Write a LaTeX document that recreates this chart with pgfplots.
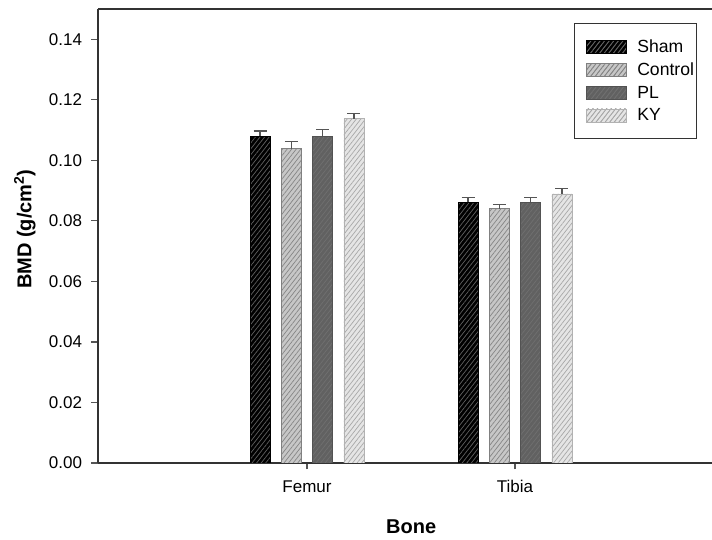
\documentclass[border=0pt]{standalone}
\usepackage{pgfplots}
\usepackage{pgfplotstable}
\pgfplotsset{compat=1.18}
\usepackage{fontspec}
\setmainfont{Liberation Sans}
\usetikzlibrary{patterns.meta}

\definecolor{axisgray}{HTML}{333333}
\definecolor{errgray}{HTML}{555555}

% hatched bar fills
\tikzset{
  shamS/.style={draw=black, line width=0.8pt, fill=black,
    postaction={pattern={Lines[angle=52,distance=3.6pt,line width=0.7pt]}, pattern color=black!62}},
  controlS/.style={draw=black!50, line width=0.8pt, fill=black!22,
    postaction={pattern={Lines[angle=52,distance=3.6pt,line width=0.7pt]}, pattern color=black!48}},
  plS/.style={draw=black!68, line width=0.8pt, fill=black!62,
    postaction={pattern={Lines[angle=52,distance=3.6pt,line width=0.7pt]}, pattern color=black!56}},
  kyS/.style={draw=black!30, line width=0.8pt, fill=black!10,
    postaction={pattern={Lines[angle=52,distance=3.6pt,line width=0.7pt]}, pattern color=black!34}},
}
% legend swatch, indented from the legend frame
\pgfplotsset{
  swatch/.style={legend image code/.code={\path (0pt,0pt); \draw[#1] (11pt,-6.5pt) rectangle (51pt,6.5pt);}},
}

% BMD means and SEM; x = 0 Femur, 1 Tibia
\pgfplotstableread{
x y e
0 0.1080 0.0017
1 0.0861 0.0016
}\sham
\pgfplotstableread{
x y e
0 0.1039 0.0022
1 0.0840 0.0014
}\control
\pgfplotstableread{
x y e
0 0.1080 0.0022
1 0.0861 0.0016
}\pl
\pgfplotstableread{
x y e
0 0.1138 0.0018
1 0.0889 0.0018
}\ky

\begin{document}
\begin{tikzpicture}
\begin{axis}[
  at={(0,0)}, anchor=south west,
  scale only axis, width=614pt, height=454pt,
  xmin=-1.005, xmax=1.947, ymin=0, ymax=0.15,
  axis x line*=box, axis y line*=left,
  axis line style={line width=1.4pt, color=axisgray},
  xtick pos=bottom, ytick pos=left,
  tick align=outside, major tick length=6.5pt,
  tick style={line width=1.2pt, color=errgray},
  xtick={0,1}, xticklabels={Femur,Tibia},
  ytick={0,0.02,...,0.14},
  yticklabel style={/pgf/number format/fixed, /pgf/number format/fixed zerofill,
    /pgf/number format/precision=2, xshift=-6pt},
  xticklabel style={yshift=-7pt, text height=12.5pt, text depth=0pt},
  /pgf/number format/assume math mode=true,
  tick label style={font=\fontsize{17}{20}\selectfont},
  xlabel={\bfseries Bone},
  ylabel={\bfseries BMD (g/cm\textsuperscript{2})},
  every axis x label/.style={at={(axis description cs:0.51,0)}, yshift=-64pt, anchor=center,
    font=\fontsize{20}{24}\selectfont},
  every axis y label/.style={at={(axis description cs:-0.119,0.515)}, rotate=90, anchor=center,
    font=\fontsize{20}{24}\selectfont},
  ybar=11.3pt, bar width=20pt,
  error bars/y dir=plus, error bars/y explicit,
  error bars/error bar style={draw=errgray, line width=1.2pt},
  error bars/error mark options={rotate=90, draw=errgray, line width=1.2pt, mark size=6.5pt},
  legend style={at={(axis description cs:0.9756,0.969)}, anchor=north east,
    draw=axisgray, line width=1pt, fill=white,
    font=\fontsize{17.6}{20}\selectfont,
    inner xsep=0.5pt, inner ysep=14pt, row sep=5pt,
    cells={anchor=west, inner xsep=0pt},
    /tikz/every odd column/.append style={column sep=8pt}},
  legend cell align=left,
]
\addplot[shamS, swatch=shamS] table[x=x, y=y, y error=e] {\sham};
\addlegendentry{Sham}
\addplot[controlS, swatch=controlS] table[x=x, y=y, y error=e] {\control};
\addlegendentry{Control}
\addplot[plS, swatch=plS] table[x=x, y=y, y error=e] {\pl};
\addlegendentry{PL}
\addplot[kyS, swatch=kyS] table[x=x, y=y, y error=e] {\ky};
\addlegendentry{KY}
\end{axis}
\pgfresetboundingbox
\path (-98pt,-77pt) rectangle (614pt,463pt);
\end{tikzpicture}
\end{document}
